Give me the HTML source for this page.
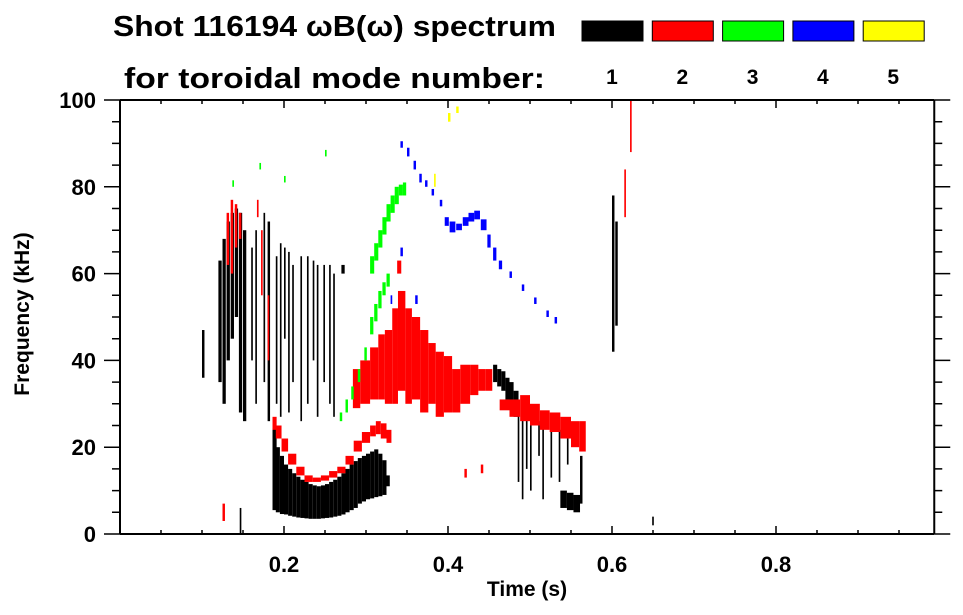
<!DOCTYPE html>
<html><head><meta charset="utf-8"><style>
html,body{margin:0;padding:0;background:#fff;}
svg{display:block;font-family:"Liberation Sans",Arial,sans-serif;font-weight:bold;}
</style></head><body>
<svg id="chart" width="963" height="615" viewBox="0 0 963 615" xmlns="http://www.w3.org/2000/svg">
<g>
<text x="113" y="36" font-size="29" textLength="443" lengthAdjust="spacingAndGlyphs">Shot 116194 ωB(ω) spectrum</text>
<text x="124" y="88" font-size="29" textLength="421" lengthAdjust="spacingAndGlyphs">for toroidal mode number:</text>
</g>
<g id="legend"></g>
<g id="marks"></g>
<g id="axes"></g>
<text x="527" y="596" font-size="21" text-anchor="middle">Time (s)</text>
<text transform="translate(29,314) rotate(-90)" font-size="21" text-anchor="middle">Frequency (kHz)</text>
</svg>
<script>
const modes = ["1","2","3","4","5"];
const modeColors = ["#000000","#ff0000","#00ff00","#0000ff","#ffff00"];
const xTicks = [0.2,0.4,0.6,0.8];
const xTickLabels = ["0.2","0.4","0.6","0.8"];
const yTicks = [0,20,40,60,80,100];
const yTickLabels = ["0","20","40","60","80","100"];

// mode 1 (black): time (s), duration (s), freq low/high (kHz)
const m1t  = [0.1,0.12,0.125,0.13,0.135,0.14,0.145,0.15,0.146, 0.16,0.165,0.175,0.18,0.19,0.195,0.2,0.205,0.21,0.22,0.228,0.235,0.24,0.248,0.255,0.26,0.27,
 0.186,0.19,0.195,0.2,0.205,0.21,0.215,0.22,0.225,0.23,0.235,0.24,0.245,0.25,0.255,0.26,0.265,0.27,0.275,0.28,0.285,0.29,0.295,0.3,0.305,0.31,0.315,0.32,0.325,
 0.455,0.46,0.465,0.47,0.475,0.48, 0.485,0.49,0.495,0.5,0.51,0.515,0.525,0.535,0.545, 0.537,0.545,0.553,0.561, 0.6,0.604,0.649];
const m1dt = [0.003,0.004,0.004,0.004,0.004,0.004,0.004,0.004,0.002, 0.002,0.002,0.002,0.003,0.002,0.002,0.002,0.002,0.002,0.002,0.002,0.002,0.002,0.002,0.002,0.002,0.004,
 0.005,0.005,0.005,0.005,0.005,0.005,0.005,0.005,0.005,0.005,0.005,0.005,0.005,0.005,0.005,0.005,0.005,0.005,0.005,0.005,0.005,0.005,0.005,0.005,0.005,0.005,0.005,0.005,0.004,
 0.005,0.005,0.005,0.005,0.005,0.006, 0.002,0.002,0.002,0.002,0.002,0.002,0.002,0.002,0.002, 0.008,0.008,0.008,0.003, 0.003,0.003,0.002];
const m1lo = [36,35,30,40,45,50,28,26,0, 40,30,35,26,30,27,45,28,35,26,30,40,27,35,30,27,60,
 5.5,5,4.6,4.5,4.2,4,3.8,3.7,3.6,3.5,3.5,3.5,3.6,3.7,3.8,4,4.2,4.5,5,5.5,6,7,7.5,8,8.2,8.5,8.7,9,11,
 35,34,33,31,29,27, 12,8,15,10,18,8,13,12,16, 6,5.5,5,7, 42,48,2];
const m1hi = [47,63,68,72,74,75,74,70,6, 66,70,74,72,64,67,66,65,62,64,64,63,62,62,62,60,62,
 24.4,20,18,16,15,14,13.2,12.5,12,11.5,11.2,11,11.2,11.5,12,12.5,13.2,14,15,16,16.8,17.5,18,18.5,19,19.5,18.5,17,13.5,
 39,38,37.5,36,35,33, 30,29,28,27,26,25,24,24,22, 10,9.5,9,18, 78,72,4];

// mode 2 (red)
const m2t  = [0.13,0.135,0.14,0.145,0.167,0.172,0.18,0.125,
 0.186,0.19,0.197,0.205,0.215,0.225,0.235,0.245,0.255,0.265,0.275,0.285,0.295,0.305,0.312,0.318,0.325,
 0.284,0.293,0.305,0.315,0.323,0.332,0.339,0.348,0.356,0.366,0.376,0.385,0.395,0.405,0.415,0.427,0.437,0.446,0.338,0.37,
 0.463,0.475,0.488,0.5,0.512,0.524,0.537,0.55,0.56, 0.615,0.622,0.42,0.44];
const m2dt = [0.003,0.003,0.003,0.003,0.002,0.002,0.002,0.003,
 0.005,0.007,0.008,0.01,0.01,0.01,0.01,0.01,0.01,0.01,0.01,0.01,0.01,0.007,0.006,0.007,0.006,
 0.009,0.012,0.01,0.008,0.009,0.007,0.009,0.008,0.01,0.01,0.009,0.01,0.01,0.01,0.012,0.01,0.009,0.008,0.005,0.003,
 0.012,0.013,0.012,0.012,0.012,0.013,0.013,0.01,0.008, 0.002,0.002,0.003,0.003];
const m2lo = [62,60,66,68,73,55,40,3,
 24,22,19,16,13.5,12,12,12.3,13,14,16,19,21,22.5,23,22,21,
 29,30,31,31,30,30,33,30,31,28,30,27,28,28,30,32,33,33,60,44,
 28.5,27,26,25,24,23.5,22,20,19, 73,88,13,14];
const m2hi = [74,77,76,74,77,70,55,7,
 27,25,22,18.5,15.5,13.5,13,13.5,14.5,15.5,18,21.5,23.5,25,26,25.5,24,
 38,40,43,46,47,52,56,52,50,47,44,42,41,38,39,39,38,38,63,46,
 31,31,32,30,28.5,28,27,26,26, 84,100,15,16];

// mode 3 (green)
const m3t  = [0.305,0.31,0.315,0.32,0.325,0.33,0.335,0.34,0.345, 0.268,0.275,0.282,0.29,0.298,0.305,0.31,0.315,0.32,0.325, 0.137,0.17,0.25,0.2];
const m3dt = [0.005,0.005,0.005,0.005,0.005,0.005,0.005,0.005,0.004, 0.003,0.003,0.003,0.003,0.003,0.004,0.004,0.004,0.004,0.004, 0.002,0.002,0.002,0.002];
const m3lo = [60,63,66,69,72,74,76,78,78, 26,28,31,35,40,46,49,52,55,57, 80,84,87,81];
const m3hi = [64,67,70,73,76,78,80,80.5,81, 28,31,34,38,43,50,53,56,58,60, 81.5,85.5,88.5,82.5];

// mode 4 (blue)
const m4t  = [0.342,0.35,0.358,0.365,0.372,0.38,0.39,0.396,0.402,0.41,0.418,0.425,0.432,0.44,0.448,0.455,0.462,0.475,0.49,0.505,0.52,0.53, 0.342,0.36,0.33];
const m4dt = [0.003,0.003,0.003,0.003,0.003,0.003,0.003,0.005,0.007,0.007,0.007,0.007,0.007,0.007,0.004,0.004,0.004,0.003,0.003,0.003,0.003,0.003, 0.003,0.003,0.002];
const m4lo = [89,87,84,81,80,78,75.5,71,69.5,70,71,72,72.5,70,66,63,61,59,56,53,50,48.5, 64,53,53];
const m4hi = [90.5,89,86,83,81.5,79.5,77,73,72,71.5,73,74,74.5,72.5,69,66,63,60.5,57.5,54.5,51.5,50, 66,55,55];

// mode 5 (yellow)
const m5t  = [0.383,0.4,0.41];
const m5dt = [0.002,0.003,0.003];
const m5lo = [80,95,97];
const m5hi = [83,97,98.5];

const X0=120, X1=940, Y0=534, Y1=100, TMAX=0.993;
function xs(t){return X0 + t*(X1-X0);}
function ys(f){return Y0 - f/100*(Y0-Y1);}
const NS="http://www.w3.org/2000/svg";
function mk(tag,attrs,parent){const e=document.createElementNS(NS,tag);for(const k in attrs)e.setAttribute(k,attrs[k]);parent.appendChild(e);return e;}

// legend
const leg=document.getElementById('legend');
modes.forEach((m,i)=>{
  const bx=582+i*70.3;
  const r=mk('rect',{x:bx,y:21,width:61,height:20,fill:modeColors[i],stroke:'#000','stroke-width':1},leg);
  
  
  const t=mk('text',{x:bx+30,y:84,'font-size':21,'text-anchor':'middle'},leg);
  t.textContent=m;
  
  
});

// marks
const marks=document.getElementById('marks');
const series=[[m1t,m1dt,m1lo,m1hi],[m2t,m2dt,m2lo,m2hi],[m3t,m3dt,m3lo,m3hi],[m4t,m4dt,m4lo,m4hi],[m5t,m5dt,m5lo,m5hi]];
series.forEach((s,si)=>{
  const g=mk('g',{fill:modeColors[si]},marks);
  
  
  for(let i=0;i<s[0].length;i++){
    const x=xs(s[0][i]), w=Math.max(xs(s[0][i]+s[1][i])-x,1.2);
    const y=ys(s[3][i]), h=Math.max(ys(s[2][i])-y,1.5);
    const r=mk('rect',{x:x,y:y,width:w,height:h},g);
    
    
  }
});

// axes
const ax=document.getElementById('axes');
const XR=xs(TMAX);
const frame=mk('path',{d:`M${X0},${Y1}H${XR}M${X0},${Y0}H${XR}M${X0},${Y1}V${Y0}M${XR},${Y1}V${Y0}`,stroke:'#000','stroke-width':2,fill:'none'},ax);


let d='';
for(let k=1;k*0.05<TMAX;k++){
  const t=k*0.05, x=xs(t), L=(k%4===0)?8:4;
  d+=`M${x},${Y0}v${-L}M${x},${Y1}v${L}`;
}
for(let k=0;k<=20;k++){
  const y=ys(k*5), L=(k%4===0)?16:8;
  d+=`M${X0},${y}h${-L}M${XR},${y}h${L}`;
}
const ticks=mk('path',{d:d,stroke:'#000','stroke-width':1.5,fill:'none'},ax);


xTicks.forEach((t,i)=>{
  const e=mk('text',{x:xs(t),y:572,'font-size':22,'text-anchor':'middle'},ax);
  e.textContent=xTickLabels[i];
  
  
});
yTicks.forEach((f,i)=>{
  const e=mk('text',{x:96,y:ys(f)+8,'font-size':22,'text-anchor':'end'},ax);
  e.textContent=yTickLabels[i];
  
  
});
</script>
</body></html>
